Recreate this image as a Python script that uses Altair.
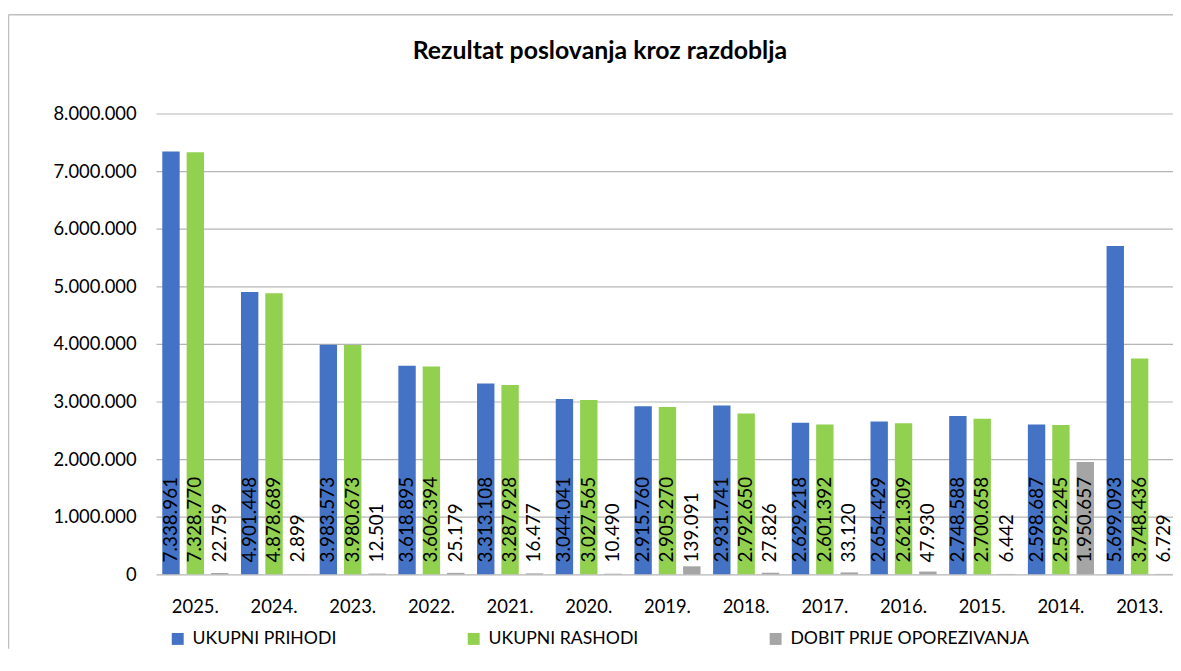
import altair as alt
import pandas as pd

years = ["2025.", "2024.", "2023.", "2022.", "2021.", "2020.", "2019.",
         "2018.", "2017.", "2016.", "2015.", "2014.", "2013."]
series = ["UKUPNI PRIHODI", "UKUPNI RASHODI", "DOBIT PRIJE OPOREZIVANJA"]
colors = ["#4472C4", "#92D050", "#A5A5A5"]
title_text = ["Rezultat poslovanja  kroz razdoblja"]

prihodi = [7338961, 4901448, 3983573, 3618895, 3313108, 3044041, 2915760,
           2931741, 2629218, 2654429, 2748588, 2598687, 5699093]
rashodi = [7328770, 4878689, 3980673, 3606394, 3287928, 3027565, 2905270,
           2792650, 2601392, 2621309, 2700658, 2592245, 3748436]
dobit = [22759, 2899, 12501, 25179, 16477, 10490, 139091,
         27826, 33120, 47930, 6442, 1950657, 6729]

rows = []
for s, vals in zip(series, [prihodi, rashodi, dobit]):
    for y, v in zip(years, vals):
        rows.append({"year": y, "series": s, "value": v,
                     "label": f"{v:,}".replace(",", ".")})
df = pd.DataFrame(rows)

FONT = "Lato"
W = 1024

x_enc = alt.X("year:N", sort=years,
              scale=alt.Scale(range=[0, 1030], paddingInner=0.16, paddingOuter=0.08),
              axis=alt.Axis(title=None, domain=False, ticks=False, labelAngle=0,
                            labelFontSize=18.5, labelFont=FONT, labelColor="#000000",
                            labelPadding=23))
xoff_enc = alt.XOffset("series:N", sort=series,
                       scale=alt.Scale(paddingInner=0.286, paddingOuter=0))

bars = alt.Chart(df).mark_bar().encode(
    x=x_enc,
    xOffset=xoff_enc,
    y=alt.Y("value:Q", scale=alt.Scale(domain=[0, 8000000]),
            axis=alt.Axis(title=None, domain=False, ticks=False,
                          values=[0, 1000000, 2000000, 3000000, 4000000,
                                  5000000, 6000000, 7000000, 8000000],
                          labelExpr="replace(replace(format(datum.value, ','), ',', '.'), ',', '.')",
                          labelFontSize=18.5, labelFont=FONT, labelColor="#000000",
                          labelPadding=20, gridColor="#b5b5b5", gridWidth=1.2)),
    color=alt.Color("series:N", sort=series,
                    scale=alt.Scale(domain=series, range=colors),
                    legend=alt.Legend(title=None, orient="none", legendX=13, legendY=520,
                                      direction="horizontal", columns=3, gridAlign="each",
                                      columnPadding=129, symbolType="square",
                                      symbolSize=144, symbolStrokeWidth=0,
                                      labelFontSize=17.8, labelFont=FONT,
                                      labelColor="#000000", labelOffset=6,
                                      labelLimit=400)),
)

labels = alt.Chart(df).mark_text(angle=270, align="left", baseline="middle", dx=12,
                                 fontSize=19, font=FONT, color="#000000").encode(
    x=alt.X("year:N", sort=years),
    xOffset=alt.XOffset("series:N", sort=series),
    y=alt.datum(0),
    text="label:N",
)

frame_src = pd.DataFrame({"a": [0]})
frame_top = alt.Chart(frame_src).mark_rule(stroke="#bfbfbf", strokeWidth=1.5).encode(
    x=alt.value(-148.5), x2=alt.value(W + 20), y=alt.value(-99.5))
frame_left = alt.Chart(frame_src).mark_rule(stroke="#bfbfbf", strokeWidth=1.5).encode(
    x=alt.value(-148.5), y=alt.value(-99.5), y2=alt.value(539))

title = alt.Chart(pd.DataFrame({"t": title_text})).mark_text(
    align="center", baseline="middle", fontSize=25, font=FONT, fontWeight="bold",
    color="#000000").encode(
    x=alt.value(447), y=alt.value(-63), text="t:N")

chart = alt.layer(frame_top, frame_left, title, bars, labels).properties(
    width=W, height=464,
    autosize=alt.AutoSizeParams(type="none"),
    padding={"left": 149, "top": 104, "right": 0, "bottom": 75},
).configure_view(stroke=None)

chart.save("out.html", embed_options={"renderer": "svg", "actions": False})
